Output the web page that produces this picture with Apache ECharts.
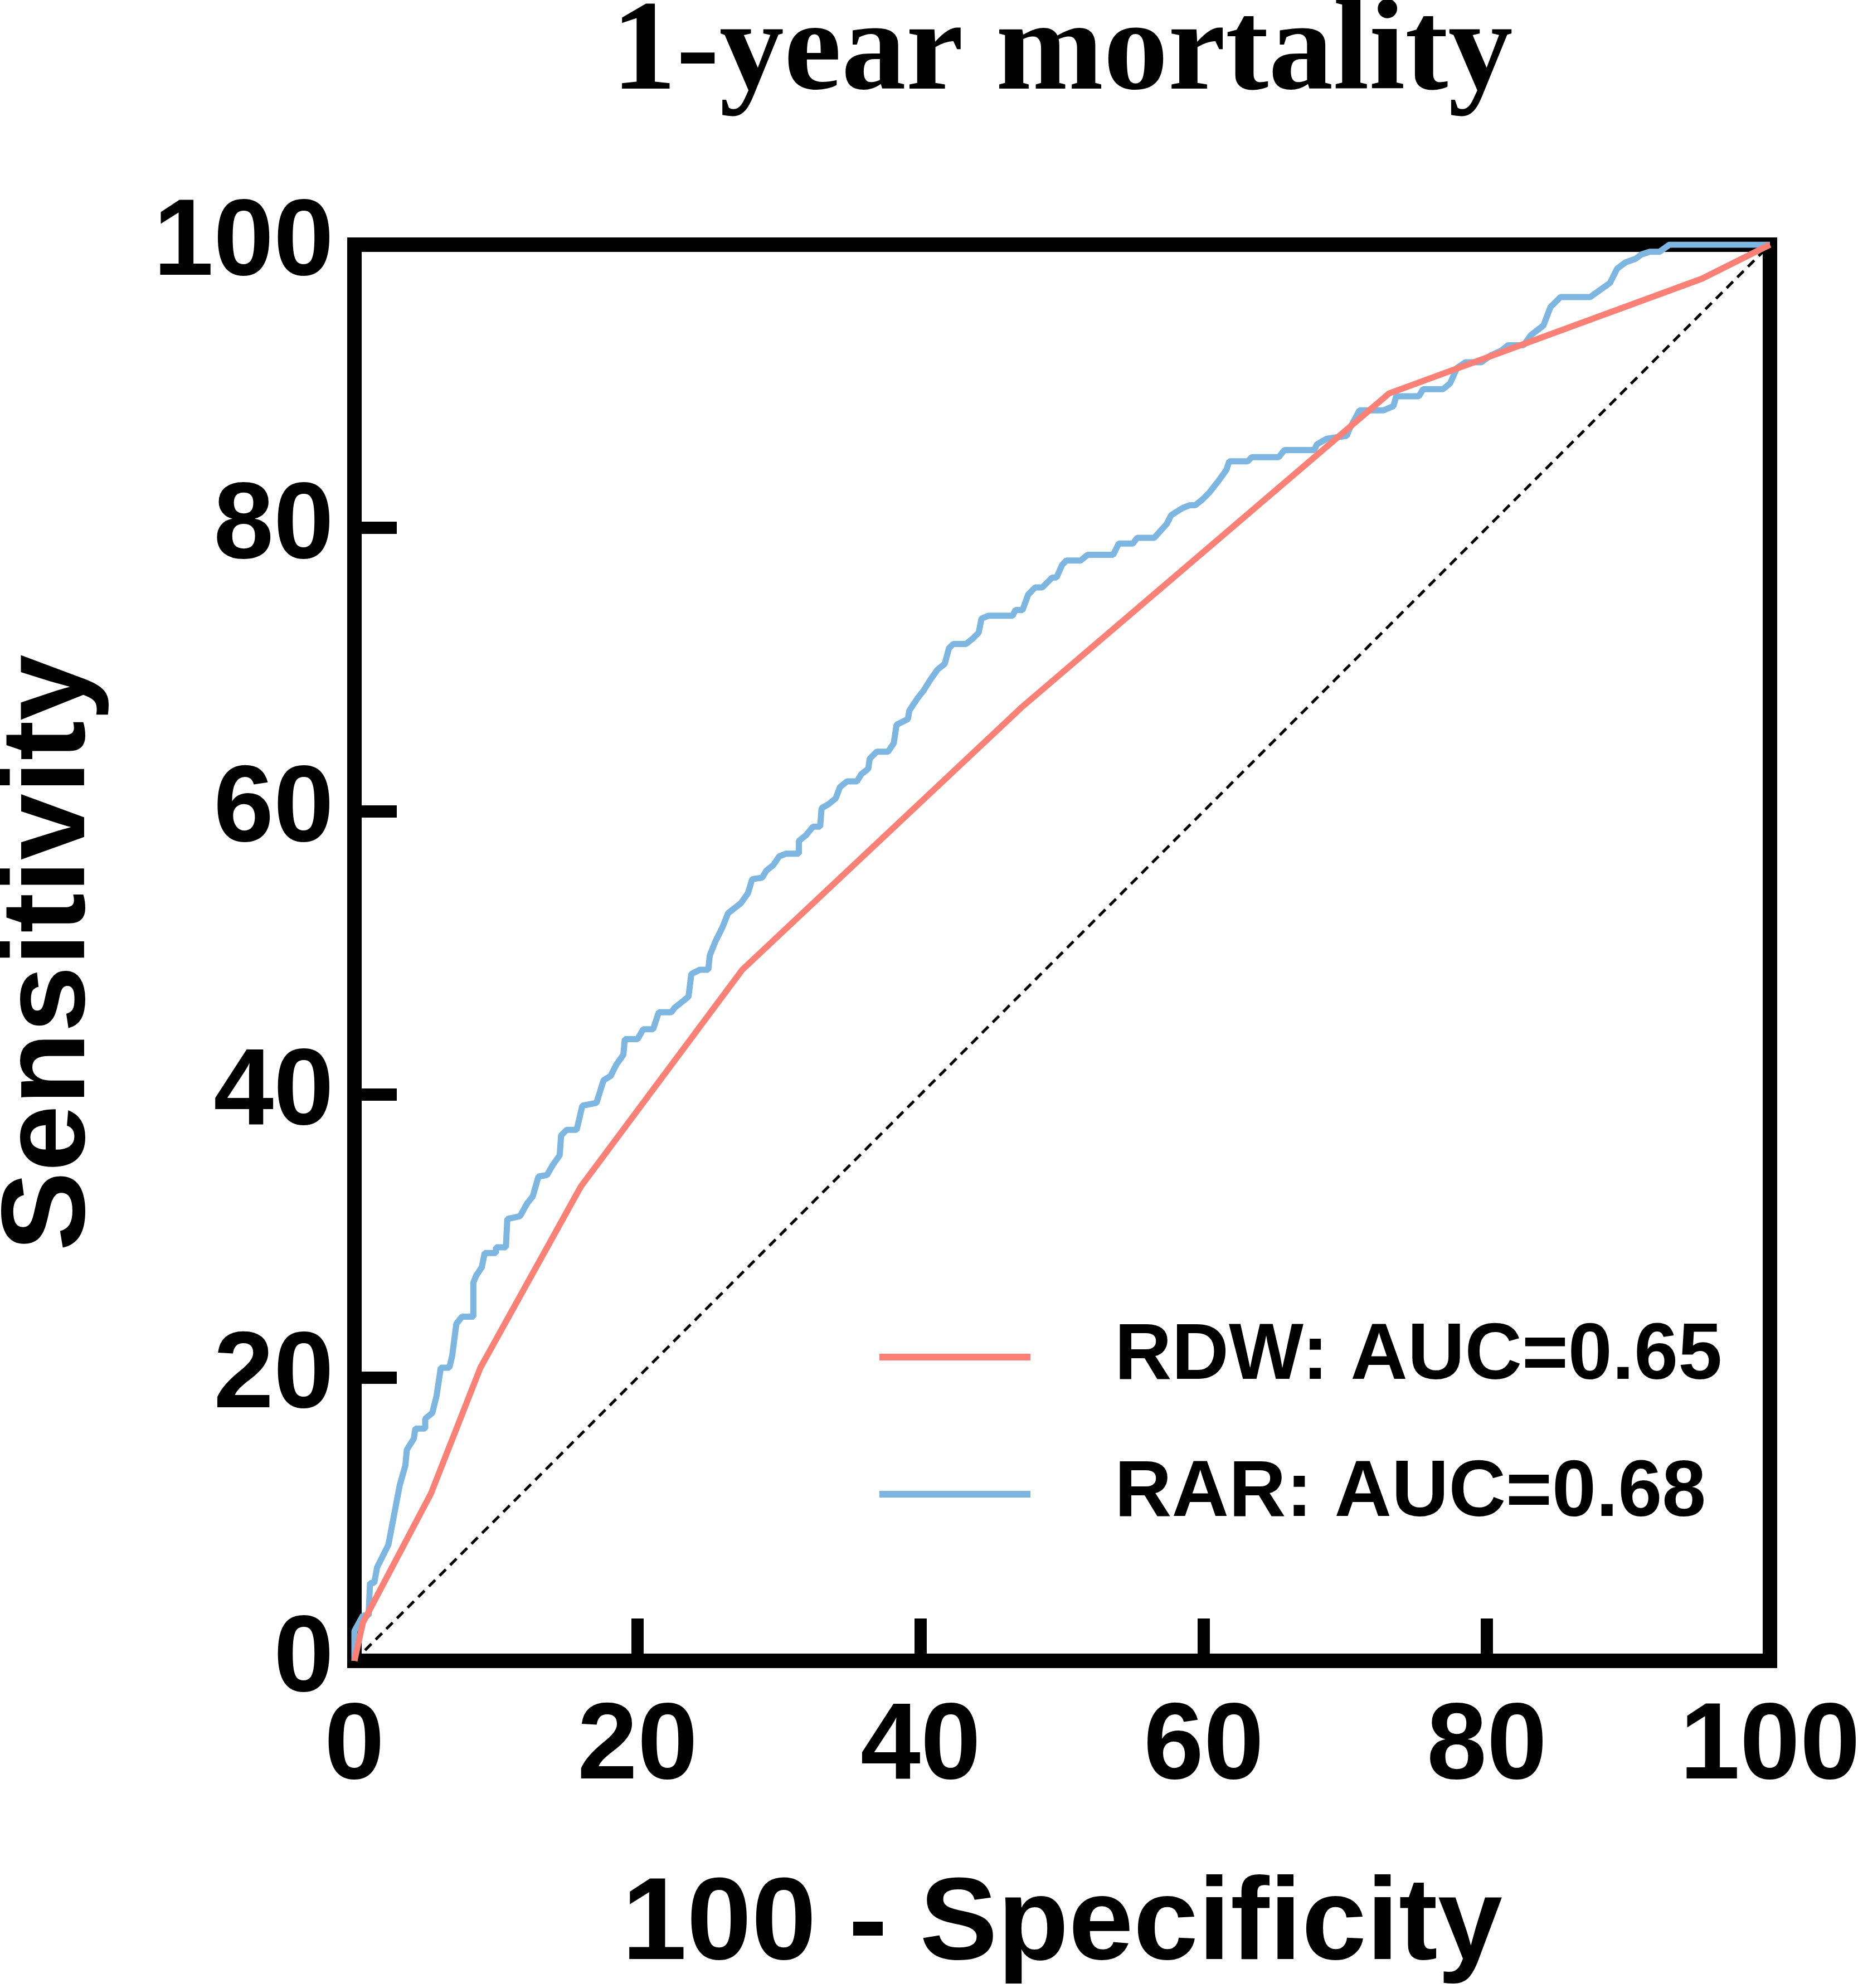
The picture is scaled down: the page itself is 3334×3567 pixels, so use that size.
<!DOCTYPE html>
<html>
<head>
<meta charset="utf-8">
<title>1-year mortality ROC</title>
<script src="https://cdn.jsdelivr.net/npm/echarts@6/dist/echarts.min.js"></script>
<style>
  html, body { margin: 0; padding: 0; background: #fff; }
  #chart { width: 3334px; height: 3567px; }
</style>
</head>
<body>
<div id="chart"></div>
<script>
// ROC points: [100 - specificity, sensitivity]
var rdwPoints = [
  [0, 0], [0.6, 2.7], [5.4, 11.8], [8.9, 20.7], [16.0, 33.5], [27.4, 48.8],
  [47.1, 67.3], [73.1, 89.5], [95.2, 97.6], [100, 100]
]

var rarPoints = [
  [0, 0], [0, 2.1], [0.6, 3.2], [1.0, 3.2], [1.1, 5.5], [1.4, 5.5], [1.6, 6.6], [2.0, 7.4],
  [2.4, 8.2], [2.8, 10.3], [3.2, 12.4], [3.6, 13.8], [3.7, 14.9], [4.2, 15.7], [4.3, 16.4],
  [5.0, 16.4], [5.0, 17.1], [5.5, 17.5], [5.8, 18.7], [6.1, 20.7], [6.7, 20.7], [6.9, 21.5],
  [7.2, 23.8], [7.6, 24.3], [8.4, 24.3], [8.4, 26.7], [8.6, 27.2], [9.0, 27.8], [9.2, 28.8],
  [10.0, 28.8], [10.0, 29.2], [10.7, 29.2], [10.8, 31.2], [11.7, 31.4], [12.2, 32.3],
  [12.6, 32.8], [13.0, 34.2], [13.6, 34.3], [14.0, 35.0], [14.5, 35.7], [14.6, 37.1],
  [15.0, 37.5], [15.7, 37.5], [16.1, 39.2], [17.1, 39.4], [17.6, 41.0], [18.1, 41.3],
  [18.5, 42.1], [19.0, 42.8], [19.1, 43.9], [20.0, 43.9], [20.4, 44.6], [21.1, 44.6],
  [21.5, 45.8], [22.4, 45.8], [22.6, 46.1], [23.1, 46.5], [23.6, 46.9], [23.8, 48.5],
  [24.4, 48.8], [25.0, 48.8], [25.1, 49.8], [25.5, 50.8], [26.0, 51.8], [26.4, 52.8],
  [27.3, 53.5], [27.8, 54.2], [28.1, 55.2], [28.8, 55.3], [29.1, 55.8], [29.6, 56.2],
  [30.0, 56.8], [30.5, 57.0], [31.4, 57.0], [31.4, 57.9], [31.9, 58.3], [32.4, 58.9],
  [32.9, 58.9], [33.0, 60.2], [33.5, 60.5], [34.0, 60.9], [34.3, 61.7], [34.8, 62.1],
  [35.5, 62.1], [35.8, 62.6], [36.3, 63.0], [36.4, 63.7], [36.9, 64.2], [37.7, 64.2],
  [38.1, 64.8], [38.3, 66.1], [39.1, 66.5], [39.2, 67.1], [39.8, 68.0], [40.2, 68.5],
  [40.7, 69.3], [41.2, 70.0], [41.7, 70.4], [42.0, 71.5], [42.3, 71.8], [43.2, 71.8],
  [43.7, 72.2], [44.1, 72.6], [44.3, 73.6], [44.8, 73.8], [46.5, 73.8], [46.7, 74.2],
  [47.2, 74.2], [47.6, 75.3], [48.1, 75.8], [48.6, 75.8], [49.3, 76.5], [49.6, 76.5],
  [50.0, 77.4], [50.3, 77.7], [51.3, 77.7], [51.8, 78.1], [53.6, 78.1], [54.0, 78.9],
  [55.0, 78.9], [55.3, 79.3], [56.5, 79.3], [57.4, 80.3], [57.7, 80.9], [58.5, 81.4],
  [59.0, 81.6], [59.4, 81.6], [59.9, 82.0], [60.4, 82.5], [61.1, 83.4], [61.6, 84.1],
  [61.8, 84.7], [63.1, 84.7], [63.4, 85.0], [65.3, 85.0], [65.7, 85.5], [67.8, 85.5],
  [68.0, 85.9], [68.7, 86.3], [70.1, 86.5], [70.3, 87.0], [71.0, 88.3], [72.7, 88.3],
  [73.4, 88.6], [73.6, 89.3], [75.2, 89.3], [75.5, 89.8], [76.9, 89.8], [77.4, 90.2],
  [77.9, 91.3], [78.5, 91.7], [79.6, 91.7], [80.3, 92.2], [81.0, 92.5], [81.5, 92.9],
  [82.6, 92.9], [83.1, 93.6], [84.0, 94.3], [84.5, 95.6], [85.2, 96.3], [87.3, 96.3],
  [88.0, 96.8], [88.7, 97.3], [89.2, 98.3], [89.8, 98.75], [90.5, 99.0], [90.9, 99.3],
  [91.5, 99.5], [92.2, 99.5], [92.9, 100], [100, 100]
]

var referenceLine = [[0, 0], [100, 100]]

var seriesNames = ['RDW: AUC=0.65', 'RAR: AUC=0.68']
var seriesColors = ['#FB8075', '#7DB6E0']

var axisFont = { fontFamily: 'Liberation Sans', fontWeight: 'bold', color: '#000' }

var myChart = echarts.init(document.getElementById('chart'))

var option = {
    backgroundColor: '#fff',
    animation: false,
    title: {
        text: '1-year mortality',
        left: 1906,
        top: -17,
        textAlign: 'center',
        padding: 0,
        textStyle: { fontFamily: 'Liberation Serif', fontWeight: 'bold', fontSize: 232, color: '#000' }
    },
    legend: [
        {
            data: [seriesNames[0]],
            left: 1578, top: 2364, padding: 0,
            icon: 'rect', itemWidth: 271, itemHeight: 12,
            textStyle: Object.assign({ fontSize: 142, padding: [14, 0, 0, 146] }, axisFont)
        },
        {
            data: [seriesNames[1]],
            left: 1578, top: 2610, padding: 0,
            icon: 'rect', itemWidth: 271, itemHeight: 12,
            textStyle: Object.assign({ fontSize: 142, padding: [14, 0, 0, 146] }, axisFont)
        }
    ],
    grid: {
        left: 636, top: 439, width: 2540, height: 2541,
        outerBoundsMode: 'none', containLabel: false,
        show: true, borderWidth: 26, borderColor: '#000', backgroundColor: 'transparent'
    },
    xAxis: {
        type: 'value', min: 0, max: 100, interval: 20,
        name: '100 - Specificity', nameLocation: 'middle', nameGap: 373,
        nameTextStyle: Object.assign({ fontSize: 209 }, axisFont),
        axisLine: { show: false },
        axisTick: { show: true, inside: true, length: 76, lineStyle: { width: 22, color: '#000' } },
        axisLabel: Object.assign({ fontSize: 194, margin: 60 }, axisFont),
        splitLine: { show: false }
    },
    yAxis: {
        type: 'value', min: 0, max: 100, interval: 20,
        name: 'Sensitivity', nameLocation: 'middle', nameGap: 437, nameRotate: 90,
        nameTextStyle: Object.assign({ fontSize: 214 }, axisFont),
        axisLine: { show: false },
        axisTick: { show: true, inside: true, length: 76, lineStyle: { width: 22, color: '#000' } },
        axisLabel: Object.assign({ fontSize: 194, margin: 37 }, axisFont),
        splitLine: { show: false }
    },
    series: [
        {
            name: 'reference',
            type: 'line',
            data: referenceLine,
            symbol: 'none',
            silent: true,
            lineStyle: { color: '#000', width: 5, type: [16, 11] },
            z: 1
        },
        {
            name: seriesNames[1],
            type: 'line',
            data: rarPoints,
            symbol: 'none',
            color: seriesColors[1],
            lineStyle: { width: 11, color: seriesColors[1] },
            z: 2
        },
        {
            name: seriesNames[0],
            type: 'line',
            data: rdwPoints,
            symbol: 'none',
            color: seriesColors[0],
            lineStyle: { width: 11, color: seriesColors[0] },
            z: 3
        }
    ]
}

myChart.setOption(option)
</script>
</body>
</html>
